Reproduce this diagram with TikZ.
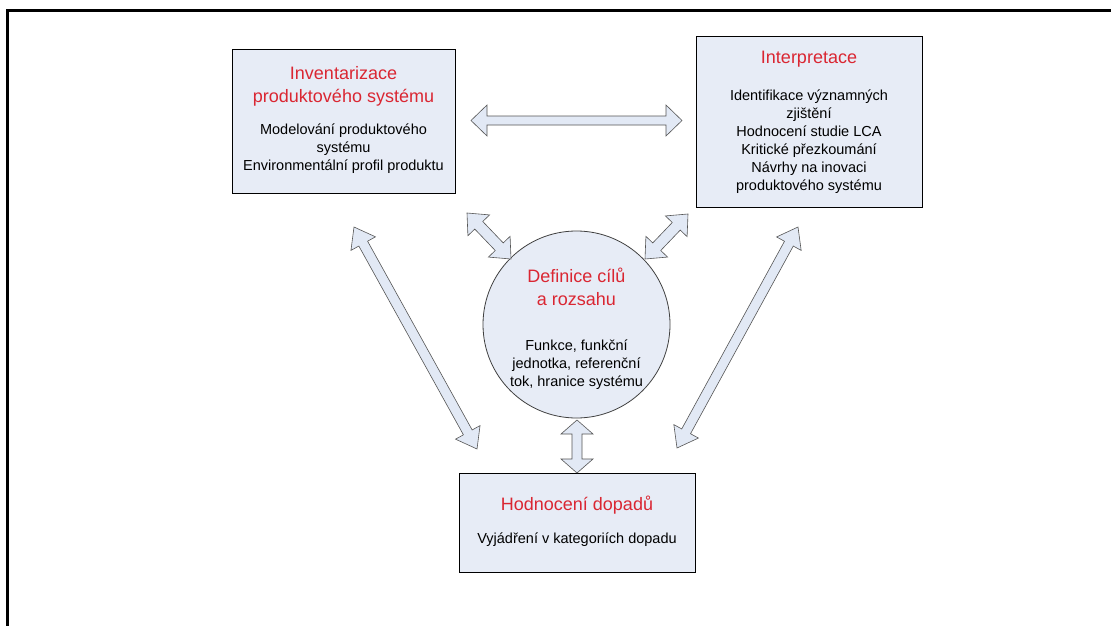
\documentclass[tikz,border=0pt]{standalone}
\usepackage{fontspec}
\setmainfont{Liberation Sans}
\usetikzlibrary{calc}
\definecolor{boxfill}{RGB}{231,236,246}
\definecolor{arrfill}{RGB}{226,233,245}
\definecolor{titlered}{RGB}{218,38,50}
\definecolor{arrline}{RGB}{85,85,85}
\tikzset{
  boxstyle/.style={draw=black, line width=0.8pt, fill=boxfill, inner sep=0pt},
  circstyle/.style={draw=black!75, line width=0.8pt, fill=boxfill, circle, inner sep=0pt},
  titletext/.style={text=titlered, align=center, inner sep=0pt, font=\fontsize{18}{23}\selectfont},
  bodytext/.style={text=black, align=center, inner sep=0pt, font=\fontsize{14.5}{18}\selectfont},
  arrowstyle/.style={draw=arrline, line width=0.6pt, fill=arrfill, line join=miter},
}
\newcommand\blockarr[5]{%
  \coordinate (ba-a) at ($(#1)!#5!(#2)$);
  \coordinate (ba-b) at ($(#2)!#5!(#1)$);
  \draw[arrowstyle] (#1) -- ($(ba-a)!#4!90:(#2)$) -- ($(ba-a)!#3!90:(#2)$)
    -- ($(ba-b)!#3!-90:(#1)$) -- ($(ba-b)!#4!-90:(#1)$) -- (#2)
    -- ($(ba-b)!#4!90:(#1)$) -- ($(ba-b)!#3!90:(#1)$)
    -- ($(ba-a)!#3!-90:(#2)$) -- ($(ba-a)!#4!-90:(#2)$) -- cycle;
}
\begin{document}
\begin{tikzpicture}[x=1pt,y=-1pt]
\useasboundingbox (0,0) rectangle (1111,626);
\fill[white] (0,0) rectangle (1111,626);
% frame
\draw[line width=2.2pt] (1112,10.5) -- (7.5,10.5) -- (7.5,627);

% boxes
\node[boxstyle, minimum width=223pt, minimum height=144pt] (inv) at (343.5,121) {};
\node[boxstyle, minimum width=226pt, minimum height=171pt] (interp) at (809,121.5) {};
\node[circstyle, minimum size=187pt] (defn) at (576.5,324.5) {};
\node[boxstyle, minimum width=236pt, minimum height=99pt] (hodn) at (577,522.5) {};

% texts
\node[titletext] (inv-t) at (343.5,86.5) {Inventarizace\\produktového systému};
\node[bodytext] (inv-b) at (343.5,149) {Modelování produktového\\systému\\Environmentální profil produktu};
\node[titletext] (interp-t) at (809,59) {Interpretace};
\node[bodytext] (interp-b) at (809,141.5) {Identifikace významných\\zjištění\\Hodnocení studie LCA\\Kritické přezkoumání\\Návrhy na inovaci\\produktového systému};
\node[titletext] (defn-t) at (576.5,287) {Definice cílů\\a rozsahu};
\node[bodytext] (defn-b) at (576.5,365) {Funkce, funkční\\jednotka, referenční\\tok, hranice systému};
\node[titletext] (hodn-t) at (577,505) {Hodnocení dopadů};
\node[bodytext] (hodn-b) at (577,540) {Vyjádření v kategoriích dopadu};

% arrow tips
\coordinate (h1) at (471,120.5);
\coordinate (h2) at (682,120.5);
\coordinate (ul1) at (467,213);
\coordinate (ul2) at (511,259);
\coordinate (ur1) at (688,214);
\coordinate (ur2) at (645,259);
\coordinate (ll1) at (354,227);
\coordinate (ll2) at (477,449);
\coordinate (rl1) at (798,227);
\coordinate (rl2) at (677,448);
\coordinate (v1) at (577,420);
\coordinate (v2) at (577,473);

\blockarr{h1}{h2}{4.5pt}{15.5pt}{16pt}
\blockarr{ul1}{ul2}{5.5pt}{15pt}{17pt}
\blockarr{ur1}{ur2}{5.5pt}{15pt}{17pt}
\blockarr{ll1}{ll2}{5pt}{14pt}{19pt}
\blockarr{rl1}{rl2}{5pt}{14pt}{19pt}
\blockarr{v1}{v2}{5pt}{16pt}{14pt}
\end{tikzpicture}
\end{document}
